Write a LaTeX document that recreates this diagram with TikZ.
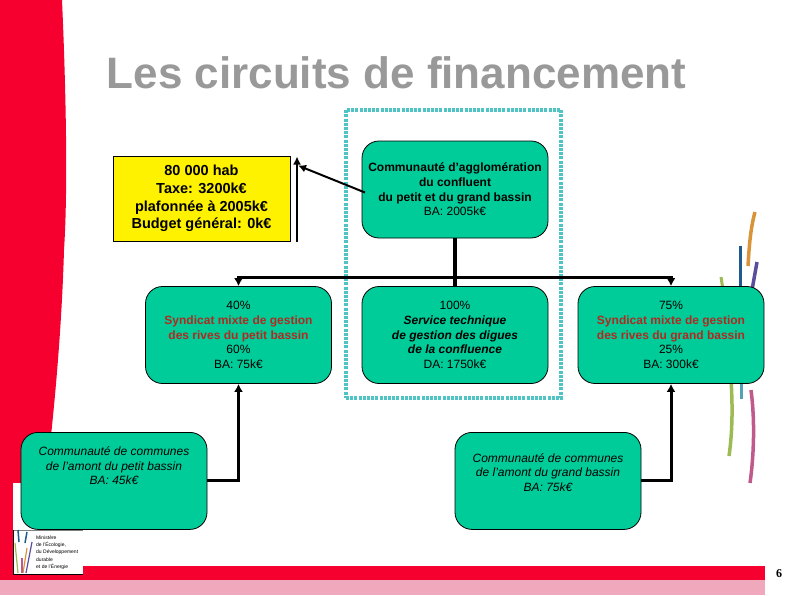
\documentclass[tikz,border=0pt]{standalone}
\usepackage{fontspec}
\setmainfont{Liberation Sans}
\newfontfamily\numfont{Liberation Serif}
\usepackage{xcolor}
\usetikzlibrary{positioning,arrows.meta}
\definecolor{flagred}{HTML}{F5002F}
\definecolor{flagpink}{HTML}{F0A8BC}
\definecolor{boxgreen}{HTML}{00CC99}
\definecolor{dotteal}{HTML}{4FC4C4}
\definecolor{titlegray}{HTML}{999999}
\definecolor{syndred}{HTML}{B02A20}
\definecolor{riborange}{HTML}{D9943A}
\definecolor{ribblue}{HTML}{1F5A8C}
\definecolor{ribviolet}{HTML}{5A4F9A}
\definecolor{ribgreen}{HTML}{9DBB55}
\definecolor{ribteal}{HTML}{4FA3B5}
\definecolor{ribpink}{HTML}{C05A8A}
\tikzset{
	orgbox/.style={draw=black,fill=boxgreen,rounded corners=17pt,minimum width=186pt,minimum height=97pt,align=center,font=\fontsize{12}{14.6}\selectfont,inner sep=0pt,line width=0.8pt},
	taxbox/.style={draw=black,fill=yellow,minimum width=177pt,minimum height=85pt,align=center,font=\fontsize{14.5}{17.8}\selectfont\bfseries,inner sep=0pt,line width=0.8pt},
	cclabel/.style={font=\fontsize{12}{14.6}\selectfont\itshape,align=center,inner sep=0pt,anchor=north},
	link/.style={-{Latex[length=8pt,width=9pt]},line width=3pt},
	thinlink/.style={-{Latex[length=8pt,width=8pt]},line width=2pt},
	ribbon/.style={line width=3.5pt},
	logoribbon/.style={line width=1.2pt}
}
\begin{document}
\begin{tikzpicture}[x=1pt,y=-1pt]
	\useasboundingbox (0,0) rectangle (794,595);
	\fill[white] (0,0) rectangle (794,595);
	% red band and footer
	\fill[flagred] (0,0) -- (62,0) .. controls (66,90) and (68,190) .. (64,250) .. controls (62,320) and (56,390) .. (50,445) -- (50,580) -- (0,580) -- cycle;
	\fill[flagred] (50,566) rectangle (765,580);
	\fill[flagpink] (0,580) rectangle (765,595);
	% ribbons on the right
	\draw[ribbon,color=riborange] (755,212) .. controls (750,230) and (749,250) .. (748,266);
	\draw[ribbon,line width=3pt,color=ribblue] (740,246) -- (740,290);
	\draw[ribbon,color=ribviolet] (757,262) -- (752,290);
	\draw[ribbon,line width=3pt,color=ribgreen] (721,277) -- (723,290);
	\draw[ribbon,color=ribgreen] (731,380) .. controls (733,410) and (732,435) .. (729,456);
	\draw[ribbon,line width=3pt,color=ribteal] (741,380) -- (741,399);
	\draw[ribbon,color=ribpink] (751,390) .. controls (755,420) and (754,455) .. (750,483);
	% logo
	\node[fill=white,minimum width=70pt,minimum height=91pt,inner sep=0pt] (logo) at (48,528.5) {};
	\draw[gray,line width=0.6pt] (13,530) -- (83,530);
	\draw[black,line width=0.6pt] (13,530) -- (13,574) -- (83,574);
	\node[anchor=west,align=left,font=\fontsize{5}{7.2}\selectfont,inner sep=0pt] (logotext) at (36,552.5) {Ministère\\de l'Écologie,\\du Développement\\durable\\et de l'Énergie};
	\draw[logoribbon,line width=1.5pt,color=ribblue] (18,530) -- (19,542);
	\draw[logoribbon,line width=1.5pt,color=ribblue] (27,532) -- (25,543);
	\draw[logoribbon,color=ribviolet] (32,542) -- (26,573);
	\draw[logoribbon,color=ribgreen] (15,543) -- (18,573);
	\draw[logoribbon,color=riborange] (27,548) -- (23,573);
	\draw[logoribbon,color=ribpink] (22,558) -- (22,573);
	% title
	\node[font=\fontsize{44}{50}\selectfont\bfseries,text=titlegray,inner sep=0pt] (title) at (396.5,73) {Les circuits de financement};
	% dotted frame
	\node[draw=dotteal,line width=3.5pt,dash pattern=on 3pt off 1.2pt,minimum width=215pt,minimum height=288pt,inner sep=0pt] (frame) at (453.5,254) {};
	% boxes
	\node[taxbox] (tax) at (201.5,198.5) {80 000 hab\\Taxe: 3200k€\\plafonnée à 2005k€\\Budget général: 0k€};
	\node[orgbox] (agglo) at (455,189.5) {\textbf{Communauté d’agglomération}\\\textbf{du confluent}\\\textbf{du petit et du grand bassin}\\BA: 2005k€};
	\node[orgbox] (syndleft) at (238.5,335) {40\%\\\textbf{\textcolor{syndred}{Syndicat mixte de gestion}}\\\textbf{\textcolor{syndred}{des rives du petit bassin}}\\60\%\\BA: 75k€};
	\node[orgbox] (service) at (455,335) {100\%\\\textbf{\textit{Service technique}}\\\textbf{\textit{de gestion des digues}}\\\textbf{\textit{de la confluence}}\\DA: 1750k€};
	\node[orgbox] (syndright) at (671,335) {75\%\\\textbf{\textcolor{syndred}{Syndicat mixte de gestion}}\\\textbf{\textcolor{syndred}{des rives du grand bassin}}\\25\%\\BA: 300k€};
	\node[orgbox,anchor=north] (ccleft) at (114,432) {};
	\node[orgbox,anchor=north] (ccright) at (548,432) {};
	\node[cclabel] (ccleftlabel) at (114,446.5) {Communauté de communes\\de l'amont du petit bassin\\BA: 45k€};
	\node[cclabel] (ccrightlabel) at (548,453) {Communauté de communes\\de l'amont du grand bassin\\BA: 75k€};
	% links
	\coordinate (junction) at (agglo.south |- 0,277.5);
	\draw[line width=4pt] (agglo.south) -- (service.north);
	\draw[link] (junction) -| (syndleft.north);
	\draw[link] (junction) -| (syndright.north);
	\draw[link] (ccleft.east |- 0,480) -| (syndleft.south);
	\draw[link] (ccright.east |- 0,480) -| (syndright.south);
	\coordinate (taxfoot) at (297,241.5);
	\coordinate (taxhead) at (297,156.5);
	\coordinate (aggloleft) at (365,192.5);
	\coordinate (taxmark) at (298,165.5);
	\draw[thinlink] (taxfoot) -- (taxhead);
	\draw[thinlink] (aggloleft) -- (taxmark);
	% page number
	\node[font=\fontsize{12}{14}\selectfont\bfseries\numfont,inner sep=0pt] (pagenum) at (779,574) {6};
\end{tikzpicture}
\end{document}
